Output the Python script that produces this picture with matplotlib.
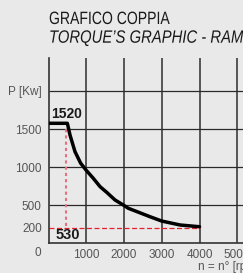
import matplotlib
matplotlib.use("Agg")
import matplotlib.pyplot as plt
from matplotlib.textpath import TextPath
from matplotlib.patches import PathPatch
from matplotlib.font_manager import FontProperties
from matplotlib.transforms import Affine2D, IdentityTransform

# curve (rpm, kW)
rpm = [0, 495, 565, 698, 849, 989, 1183, 1363, 1538, 1759, 1979, 2111, 2687, 2997, 3485, 4000]
power = [1575, 1575, 1421, 1201, 1049, 961, 851, 741, 667, 566, 500, 457, 346, 289, 237, 214]

yticks = [200, 500, 1000, 1500, 2000]
ylabels = ["200", "500", "1000", "1500", "P [Kw]"]
xticks = [1000, 2000, 3000, 4000, 5000]
xlabels = ["1000", "2000", "3000", "4000", "5000"]
hgrid = [500, 1000, 1500, 2000]

n_ref = 470      # dotted marker (labelled 530)
p_min = 200
p_max_label = "1520"
n_label = "530"
title1 = "GRAFICO COPPIA"
title2 = "TORQUE\u2019S GRAPHIC - RAMPA"

plt.rcParams["font.family"] = ["Liberation Sans", "DejaVu Sans"]
BG = "#e9e9e9"


def text_path(s, cap_px, italic=False):
    prop = FontProperties(family="Liberation Sans", style="italic" if italic else "normal")
    return TextPath((0, 0), s, size=cap_px / 0.729, prop=prop)


# condensed text drawn as a path, in pixel coords (dpi stays 100)
def narrow_text(fig, x, y, s, cap_px, width_px, ref=None, italic=False):
    tp = text_path(s, cap_px, italic)
    w = text_path(ref or s, cap_px, italic).get_extents().width
    tr = Affine2D().scale(width_px / w, 1.0).translate(x, y)
    fig.patches.append(PathPatch(tr.transform_path(tp), color="#1a1a1a", lw=0,
                                 transform=IdentityTransform()))


fig = plt.figure(figsize=(2.43, 2.73), dpi=100, facecolor=BG)
ax = fig.add_axes([48.7 / 243, 30 / 273, 1 - 48.7 / 243, 185 / 273])
ax.set_facecolor(BG)
xmax = (243 - 48.7) / 37.7 * 1000
ymax = 185 / 38 * 500
ax.set_xlim(0, xmax)
ax.set_ylim(0, ymax)

for s in ["top", "right"]:
    ax.spines[s].set_visible(False)
for s in ["left", "bottom"]:
    ax.spines[s].set_color("#333333")
    ax.spines[s].set_linewidth(1.2)

# grid
for x in xticks:
    ax.vlines(x, 0, ymax, color="#555555", lw=1.4, zorder=1)
ax.hlines(hgrid, 0, xmax, color="#2a2a2a", lw=0.9, zorder=1)

ax.set_yticks(yticks, ylabels)
ax.set_xticks(xticks, xlabels)
ax.tick_params(length=0, labelsize=8.5, labelcolor="#555555")
ax.tick_params(axis="y", pad=5)
ax.tick_params(axis="x", pad=4)
ax.text(-285, -135, "0", ha="center", va="center", fontsize=8.5, color="#555555", clip_on=False)
ax.text(3960, -320, "n = n\u00b0 [rpm]", ha="left", va="center", fontsize=8.5,
        color="#555555", clip_on=False)

# red reference lines
ax.hlines(p_min, 0, 4000, color="#e3202c", lw=0.9, linestyles=(0, (4, 2)), zorder=2)
ax.vlines(n_ref, p_min + 20, 1520, color="#e8707e", lw=1.5, linestyles=(0, (1.5, 1.5)), zorder=2)

ax.plot(rpm, power, color="black", lw=2.5, solid_capstyle="round", zorder=3)

ax.text(485, 1700, p_max_label, ha="center", va="center", fontsize=10, fontweight="bold",
        color="#1a1a1a")
ax.text(510, 105, n_label, ha="center", va="center", fontsize=10.5, fontweight="bold",
        color="#1a1a1a", zorder=4)

narrow_text(fig, 49, 273 - 24, title1, 13, 120)
narrow_text(fig, 49, 273 - 42.7, title2, 13, 193, ref="TORQUE\u2019S GRAPHIC - RAM", italic=True)

fig.savefig("out.png", dpi=100, facecolor=BG)
